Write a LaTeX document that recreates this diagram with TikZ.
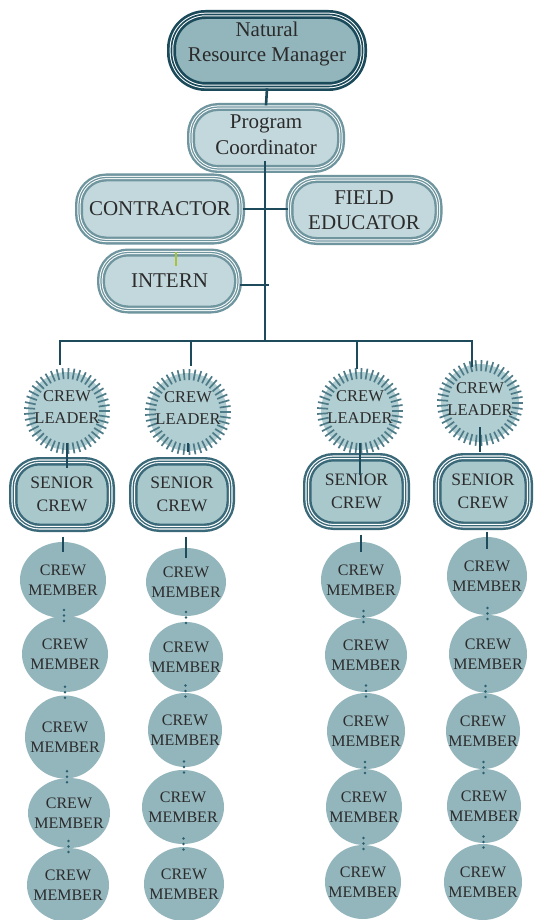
\documentclass[tikz,border=0pt]{standalone}
\usepackage{fontspec}
\setmainfont{Liberation Serif}
\usetikzlibrary{shapes.geometric,calc}
\definecolor{cDark}{HTML}{1B4A5A}
\definecolor{cNRM}{HTML}{93B6BD}
\definecolor{cMid}{HTML}{6F959F}
\definecolor{cLight}{HTML}{C3D8DC}
\definecolor{cSen}{HTML}{3A6979}
\definecolor{cSenF}{HTML}{A9C8CC}
\definecolor{cLead}{HTML}{B1CED2}
\definecolor{cTick}{HTML}{4E7B88}
\definecolor{cMem}{HTML}{93B6BD}
\definecolor{cLine}{HTML}{1D4B5B}
\definecolor{cDot}{HTML}{2B5F70}
\definecolor{cTxt}{HTML}{2B2B2B}
\definecolor{cGreen}{HTML}{A9C23C}
\newcommand\crewmem[5]{%
  \node[member, minimum width=#4pt, minimum height=#5pt] (#1) at (#2,#3) {};
  \node[memtxt] (#1t) at (#1.center) {CREW\\MEMBER};}
\newcommand\crewlead[3]{%
  \node[leader] (#1) at (#2,#3) {};
  \foreach \a in {0,8,...,352}
    \draw[tick] ($(#1.center)+(\a:32)$) -- ($(#1.center)+(\a:43)$);
  \node[leadtxt] (#1t) at ([yshift=3.5pt]#1.center) {CREW\\LEADER};}
\newcommand\junc[2]{%
  \draw[dotconn] ($(#1.south)!0.5!(#2.north)+(0,-7)$) -- ($(#1.south)!0.5!(#2.north)+(0,5)$);}
\begin{document}
\begin{tikzpicture}[x=1pt,y=-1pt,
  base/.style={text=cTxt, align=center, inner sep=0pt},
  bigtxt/.style={base, font=\fontsize{21}{25.5}\selectfont},
  pctxt/.style={base, font=\fontsize{21}{26.5}\selectfont},
  memtxt/.style={base, font=\fontsize{16}{20}\selectfont},
  leadtxt/.style={base, font=\fontsize{16.5}{22}\selectfont},
  sentxt/.style={base, font=\fontsize{17.5}{23}\selectfont},
  nrmbox/.style={rectangle, rounded corners=34pt, inner sep=0pt,
    draw=white, line width=3.6pt,
    preaction={fill=cNRM, draw=cDark, line width=9pt},
    postaction={draw=cDark, line width=1.6pt}},
  lightbox/.style={rectangle, rounded corners=27pt, inner sep=0pt,
    draw=white, line width=3.2pt,
    preaction={fill=cLight, draw=cMid, line width=8pt},
    postaction={draw=cMid, line width=1.2pt}, bigtxt},
  senbox/.style={rectangle, rounded corners=26pt, inner sep=0pt,
    draw=white, line width=3.6pt,
    preaction={fill=cSenF, draw=cSen, line width=8.5pt},
    postaction={draw=cSen, line width=1.3pt}, sentxt},
  member/.style={ellipse, fill=cMem, inner sep=0pt},
  leader/.style={circle, fill=cLead, minimum size=78pt, inner sep=0pt},
  tick/.style={draw=cTick, line width=1.7pt},
  conn/.style={draw=cLine, line width=2.6pt},
  thinconn/.style={draw=cLine, line width=1.4pt},
  dotconn/.style={draw=cDot, line width=2.8pt, line cap=round, dash pattern=on 0pt off 5.5pt}
]
\fill[white] (0,0) rectangle (534,920);
\useasboundingbox (0,0) rectangle (534,920);

% top boxes
\node[nrmbox, minimum width=191pt, minimum height=72pt] (nrm) at (267,50.5) {};
\node[bigtxt] (nrmt) at (267,44) {Natural\\Resource Manager};
\node[lightbox, minimum width=150pt, minimum height=62pt] (pc) at (266,138) {};
\node[pctxt] (pct) at (266,134.5) {Program\\Coordinator};
\node[lightbox, minimum width=162pt, minimum height=63pt] (con) at (160,209) {CONTRACTOR};
\node[lightbox, minimum width=149pt, minimum height=62pt] (fe) at (364,210) {FIELD\\EDUCATOR};
\node[lightbox, minimum width=137pt, minimum height=57pt] (intern) at (169.5,281) {INTERN};
\draw[cGreen, line width=1.5pt] (176,252) -- (176,266);

% bus coordinates
\coordinate (dm) at (265,341);
\coordinate (d1) at (60,341);
\coordinate (d2) at (191,341);
\coordinate (d3) at (357,341);
\coordinate (d4) at (472,341);
\coordinate (it) at (269,285);

% crew leaders
\crewlead{cl1}{67}{411}
\crewlead{cl2}{188}{412}
\crewlead{cl3}{360}{411}
\crewlead{cl4}{480}{403}

% senior crew
\node[senbox, minimum width=97.5pt, minimum height=66.5pt] (sc1) at (62,494.5) {SENIOR\\CREW};
\node[senbox, minimum width=97.5pt, minimum height=66.5pt] (sc2) at (182,494.5) {SENIOR\\CREW};
\node[senbox, minimum width=98.5pt, minimum height=68.5pt] (sc3) at (356.5,491.5) {SENIOR\\CREW};
\node[senbox, minimum width=91.5pt, minimum height=68.5pt] (sc4) at (483,491.5) {SENIOR\\CREW};

% crew members
\crewmem{m11}{63}{580}{86}{76}
\crewmem{m12}{65}{654}{86}{76}
\crewmem{m13}{65}{737}{80}{83}
\crewmem{m14}{69}{813}{82}{70}
\crewmem{m15}{68}{885}{82}{74}
\crewmem{m21}{186}{582}{80}{68}
\crewmem{m22}{186}{657}{74}{70}
\crewmem{m23}{185}{730}{74}{74}
\crewmem{m24}{183}{807}{82}{74}
\crewmem{m25}{184}{884}{80}{74}
\crewmem{m31}{361}{580}{80}{76}
\crewmem{m32}{366}{655}{82}{74}
\crewmem{m33}{366}{731}{78}{76}
\crewmem{m34}{364}{807}{76}{76}
\crewmem{m35}{363}{882}{76}{74}
\crewmem{m41}{487}{576}{80}{78}
\crewmem{m42}{488}{654}{78}{78}
\crewmem{m43}{483}{731}{74}{76}
\crewmem{m44}{484}{806}{74}{74}
\crewmem{m45}{483}{882}{78}{76}

% connectors
\draw[conn] (nrm.south) -- (pc.north);
\draw[conn, shorten <=-10pt] (pc.south -| dm) -- (dm);
\draw[conn] (con.east) -- (con.east -| fe.west);
\draw[conn] (intern.east |- it) -- (it);
\draw[conn, shorten <=7pt, shorten >=-3pt] (d1 |- cl1.north) -- (d1) -- (d4) -- (d4 |- cl4.north);
\draw[conn, shorten >=7pt] (d2) -- (d2 |- cl2.north);
\draw[conn, shorten >=3pt] (d3) -- (d3 |- cl3.north);

\draw[conn, shorten <=-7pt, shorten >=-8.5pt] (cl1.south) -- (cl1.south |- sc1.north);
\draw[conn, shorten <=-8pt, shorten >=7pt] (cl2.south) -- (cl2.south |- sc2.north);
\draw[thinconn, shorten <=-7pt, shorten >=-19.5pt] (cl3.south) -- (cl3.south |- sc3.north);
\draw[conn, shorten <=-15pt, shorten >=3.5pt] (cl4.south) -- (cl4.south |- sc4.north);

\draw[thinconn] ([yshift=-7pt]sc1.south -| m11.north) -- ([yshift=-10pt]m11.north);
\draw[thinconn] ([yshift=-7pt]sc2.south -| m21.north) -- ([yshift=-10pt]m21.north);
\draw[thinconn] ([yshift=-7pt]sc3.south -| m31.north) -- ([yshift=-10pt]m31.north);
\draw[thinconn] ([yshift=-4pt]sc4.south -| m41.north) -- ([yshift=-12pt]m41.north);

\junc{m11}{m12}\junc{m12}{m13}\junc{m13}{m14}\junc{m14}{m15}
\junc{m21}{m22}\junc{m22}{m23}\junc{m23}{m24}\junc{m24}{m25}
\junc{m31}{m32}\junc{m32}{m33}\junc{m33}{m34}\junc{m34}{m35}
\junc{m41}{m42}\junc{m42}{m43}\junc{m43}{m44}\junc{m44}{m45}
\end{tikzpicture}
\end{document}
